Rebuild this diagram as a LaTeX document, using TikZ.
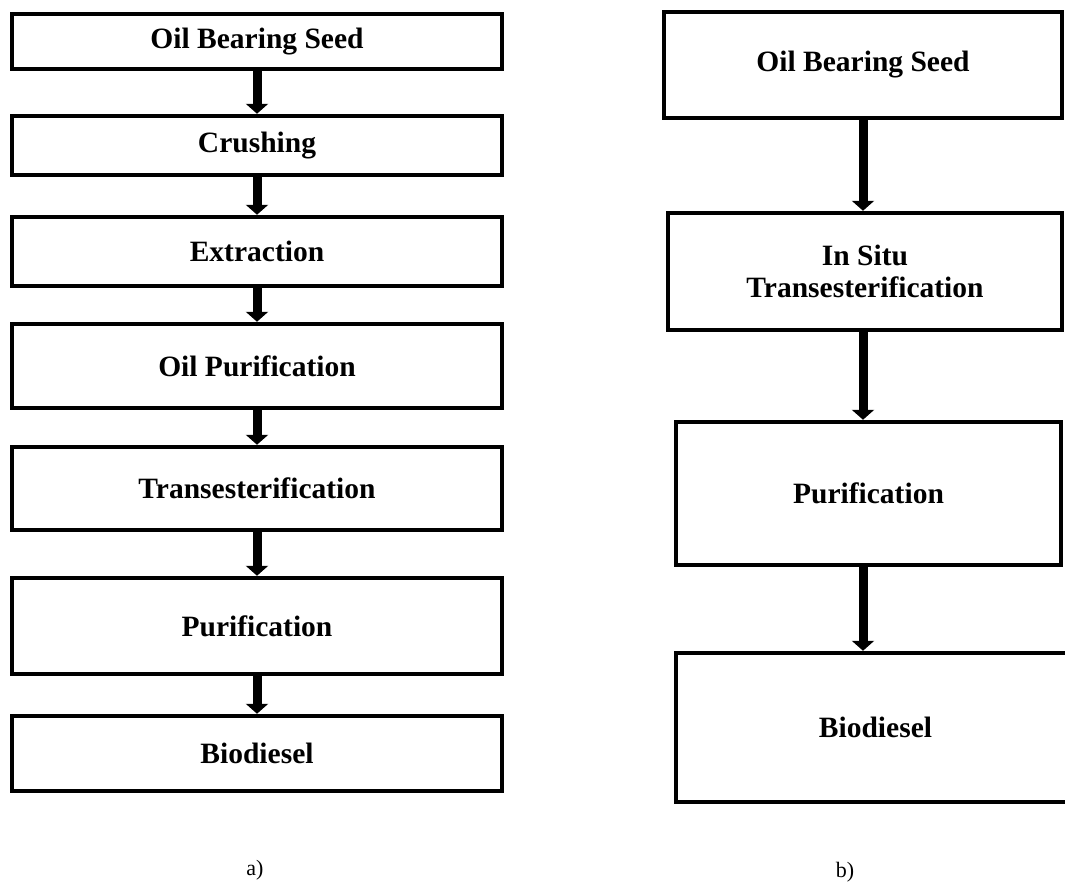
\documentclass[tikz,border=0pt]{standalone}
\usepackage{fontspec}
\setmainfont{Liberation Serif}
\usetikzlibrary{arrows.meta}

\begin{document}
\begin{tikzpicture}[x=1pt,y=-1pt,
    box/.style={draw,line width=4.5pt,inner sep=0pt,align=center,
      font=\bfseries\fontsize{29.5}{32}\selectfont},
    flow/.style={line width=9pt,-{Triangle[width=22pt,length=10pt]}}]
    \useasboundingbox (0,0) rectangle (1065,886);
    % a) conventional route
    \node[box,minimum width=490pt,minimum height=55pt] (a1) at (257,41.5) {Oil Bearing Seed};
    \node[box,minimum width=490pt,minimum height=59pt] (a2) at (257,145.5) {Crushing};
    \node[box,minimum width=490pt,minimum height=69pt] (a3) at (257,251.5) {Extraction};
    \node[box,minimum width=490pt,minimum height=84pt] (a4) at (257,366) {Oil Purification};
    \node[box,minimum width=490pt,minimum height=83pt] (a5) at (257,488.5) {Transesterification};
    \node[box,minimum width=490pt,minimum height=96pt] (a6) at (257,626) {Purification};
    \node[box,minimum width=490pt,minimum height=75pt] (a7) at (257,753.5) {Biodiesel};%
    \draw[flow] (a1.south) -- (a2.north);
    \draw[flow] (a2.south) -- (a3.north);
    \draw[flow] (a3.south) -- (a4.north);
    \draw[flow] (a4.south) -- (a5.north);
    \draw[flow] (a5.south) -- (a6.north);
    \draw[flow] (a6.south) -- (a7.north);%
    % b) in situ route
    \node[box,minimum width=398pt,minimum height=106pt] (b1) at (863,65) {Oil Bearing Seed};
    \node[box,minimum width=394pt,minimum height=117pt] (b2) at (865,271.5) {In Situ\\Transesterification};
    \node[box,minimum width=385pt,minimum height=143pt] (b3) at (868.5,493.5) {Purification};
    \node[box,minimum width=399pt,minimum height=149pt] (b4) at (875.5,727.5) {Biodiesel};%
    \draw[flow] (b1.south) -- (b1.south |- b2.north);
    \draw[flow] (b2.south -| b1.south) -- (b1.south |- b3.north);
    \draw[flow] (b3.south -| b1.south) -- (b1.south |- b4.north);%
    \node[font=\fontsize{22}{24}\selectfont] (capa) at (255,870) {a)};
    \node[font=\fontsize{22}{24}\selectfont] (capb) at (845,872) {b)};
\end{tikzpicture}
\end{document}
